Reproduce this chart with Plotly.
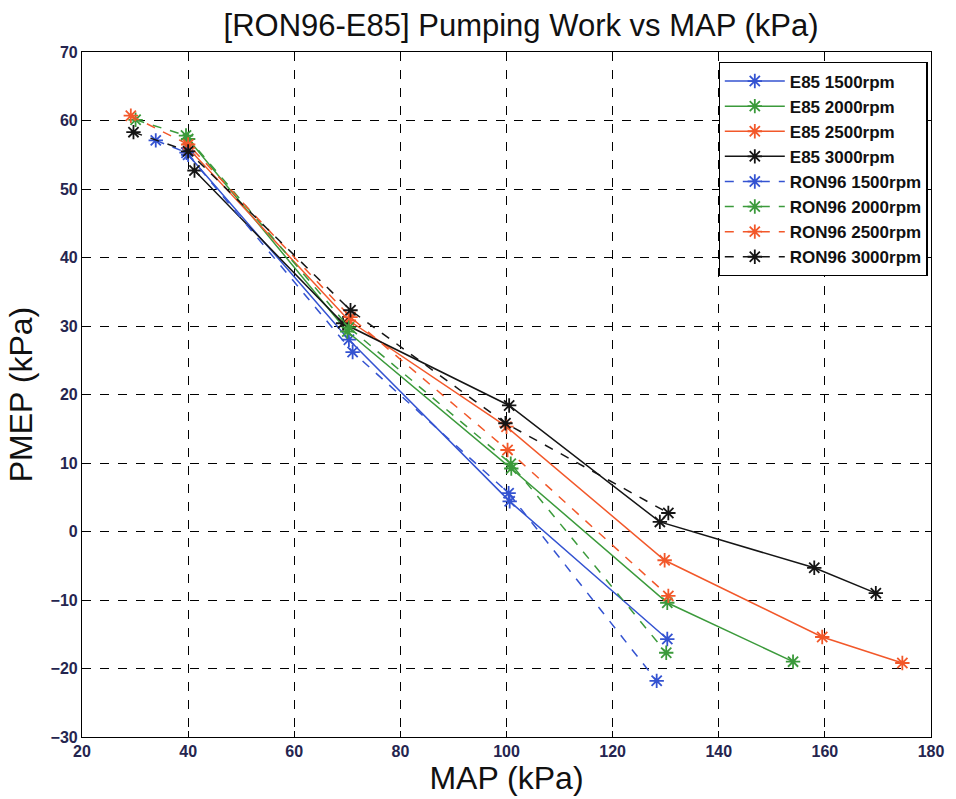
import plotly.graph_objects as go

# ---- data ----
e85_1500_map = [40.0, 70.3, 100.6, 130.3]
e85_1500_pmep = [55.0, 28.0, 4.4, -15.7]

e85_2000_map = [40.0, 70.0, 100.9, 130.3, 154.0]
e85_2000_pmep = [57.3, 29.2, 9.2, -10.4, -19.0]

e85_2500_map = [40.0, 70.3, 100.0, 129.8, 159.5, 174.6]
e85_2500_pmep = [56.0, 30.8, 15.3, -4.2, -15.4, -19.2]

e85_3000_map = [41.2, 69.2, 100.5, 128.9, 158.0, 169.6]
e85_3000_pmep = [52.7, 30.4, 18.4, 1.4, -5.3, -9.0]

ron_1500_map = [33.9, 39.7, 71.0, 100.4, 128.3]
ron_1500_pmep = [57.1, 55.3, 26.2, 5.6, -21.8]

ron_2000_map = [30.1, 39.6, 70.3, 100.8, 130.1]
ron_2000_pmep = [60.1, 57.8, 29.8, 9.9, -17.7]

ron_2500_map = [29.2, 40.0, 70.6, 100.2, 130.5]
ron_2500_pmep = [60.7, 56.5, 31.3, 11.9, -9.4]

ron_3000_map = [29.7, 40.0, 70.6, 99.8, 130.5]
ron_3000_pmep = [58.3, 55.5, 32.3, 15.8, 2.7]

x_ticks = [20, 40, 60, 80, 100, 120, 140, 160, 180]
y_ticks = [-30, -20, -10, 0, 10, 20, 30, 40, 50, 60, 70]

BLUE = "#3453d1"
GREEN = "#3b9a3b"
ORANGE = "#f2582a"
BLACK = "#151515"

series = [
    ("E85 1500rpm", e85_1500_map, e85_1500_pmep, BLUE, "solid"),
    ("E85 2000rpm", e85_2000_map, e85_2000_pmep, GREEN, "solid"),
    ("E85 2500rpm", e85_2500_map, e85_2500_pmep, ORANGE, "solid"),
    ("E85 3000rpm", e85_3000_map, e85_3000_pmep, BLACK, "solid"),
    ("RON96 1500rpm", ron_1500_map, ron_1500_pmep, BLUE, "dash"),
    ("RON96 2000rpm", ron_2000_map, ron_2000_pmep, GREEN, "dash"),
    ("RON96 2500rpm", ron_2500_map, ron_2500_pmep, ORANGE, "dash"),
    ("RON96 3000rpm", ron_3000_map, ron_3000_pmep, BLACK, "dash"),
]

fig = go.Figure()
for name, xs, ys, col, dash in series:
    fig.add_trace(go.Scatter(
        x=xs, y=ys, name=name, mode="lines+markers",
        line=dict(color=col, width=1.5, dash=dash),
        marker=dict(symbol="asterisk-open", size=12,
                    line=dict(color=col, width=1.8), color=col),
    ))

FONT = "Liberation Sans, Arial"
tick_font = dict(family=FONT, size=16, color="#25254f", weight="bold")
axis_common = dict(
    showgrid=True, gridcolor="#000000", griddash="dash", gridwidth=1,
    showline=True, linecolor="#000000", linewidth=1.2, mirror="ticks",
    ticks="inside", ticklen=6, tickcolor="#000000",
    zeroline=False, tickfont=tick_font,
)

fig.update_xaxes(range=[20, 180], tickvals=x_ticks,
                 title=dict(text="MAP (kPa)", font=dict(family=FONT, size=32, color="#111111"), standoff=4),
                 **axis_common)
fig.update_yaxes(range=[-30, 70], tickvals=y_ticks,
                 title=dict(text="PMEP (kPa)", font=dict(family=FONT, size=32, color="#111111"), standoff=8),
                 **axis_common)

fig.update_layout(
    width=956, height=799,
    margin=dict(l=82, r=21, t=52, b=60),
    paper_bgcolor="#ffffff", plot_bgcolor="#ffffff",
    title=dict(text="[RON96-E85] Pumping Work vs MAP (kPa)",
               font=dict(family=FONT, size=31, color="#111111"),
               x=0.545, xanchor="center", y=0.968, yanchor="middle"),
    legend=dict(x=0.996, xanchor="right", y=0.985, yanchor="top",
                bgcolor="#ffffff", bordercolor="#000000", borderwidth=1.2,
                font=dict(family=FONT, size=17, color="#111111", weight="bold"),
                tracegroupgap=0, itemwidth=60),
    showlegend=True,
)

fig.write_html("out.html")
